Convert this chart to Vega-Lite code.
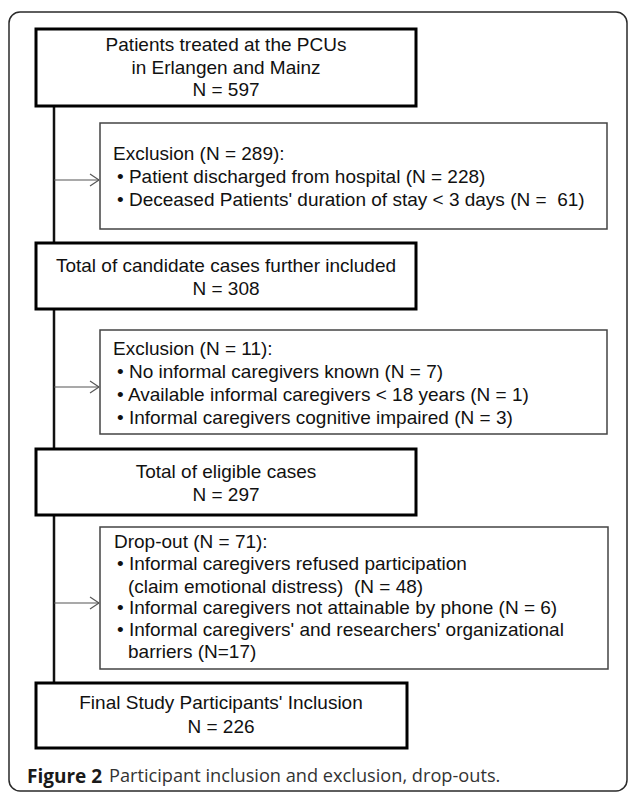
{
  "$schema": "https://vega.github.io/schema/vega-lite/v6.json",
  "width": 629,
  "height": 793,
  "autosize": {"type": "fit", "contains": "padding"},
  "padding": 0,
  "background": "white",
  "config": {"view": {"stroke": null}},
  "datasets": {
    "frame": [{"x": 9, "x2": 627, "y": 12, "y2": 791}],
    "trunk": [{"x": 54, "y": 106, "x2": 54, "y2": 683}],
    "arrows": [
      {"x": 54, "y": 180, "x2": 99, "y2": 180},
      {"x": 90, "y": 174, "x2": 99, "y2": 180},
      {"x": 90, "y": 186, "x2": 99, "y2": 180},
      {"x": 54, "y": 387, "x2": 99, "y2": 387},
      {"x": 90, "y": 381, "x2": 99, "y2": 387},
      {"x": 90, "y": 393, "x2": 99, "y2": 387},
      {"x": 54, "y": 603, "x2": 99, "y2": 603},
      {"x": 90, "y": 597, "x2": 99, "y2": 603},
      {"x": 90, "y": 609, "x2": 99, "y2": 603}
    ],
    "mainBoxes": [
      {"x": 36, "x2": 416, "y": 29, "y2": 106},
      {"x": 36, "x2": 416, "y": 243, "y2": 309},
      {"x": 36, "x2": 416, "y": 449, "y2": 515},
      {"x": 36, "x2": 407, "y": 683, "y2": 748}
    ],
    "noteBoxes": [
      {"x": 100, "x2": 607, "y": 123, "y2": 229},
      {"x": 100, "x2": 607, "y": 330, "y2": 434},
      {"x": 100, "x2": 608, "y": 527, "y2": 669}
    ],
    "mainText": [
      {"x": 226, "y": 45, "text": "Patients treated at the PCUs"},
      {"x": 226, "y": 68, "text": "in Erlangen and Mainz"},
      {"x": 226, "y": 90, "text": "N = 597"},
      {"x": 226, "y": 266, "text": "Total of candidate cases further included"},
      {"x": 226, "y": 289, "text": "N = 308"},
      {"x": 226, "y": 472, "text": "Total of eligible cases"},
      {"x": 226, "y": 495, "text": "N = 297"},
      {"x": 221, "y": 703, "text": "Final Study Participants' Inclusion"},
      {"x": 221, "y": 727, "text": "N = 226"}
    ],
    "noteText": [
      {"x": 113, "y": 154, "text": "Exclusion (N = 289):"},
      {"x": 117, "y": 177, "text": "• Patient discharged from hospital (N = 228)"},
      {"x": 117, "y": 200, "text": "• Deceased Patients' duration of stay < 3 days (N =\u00a0 61)"},
      {"x": 113, "y": 349, "text": "Exclusion (N = 11):"},
      {"x": 117, "y": 372, "text": "• No informal caregivers known (N = 7)"},
      {"x": 117, "y": 395, "text": "• Available informal caregivers < 18 years (N = 1)"},
      {"x": 117, "y": 418, "text": "• Informal caregivers cognitive impaired (N = 3)"},
      {"x": 114, "y": 542, "text": "Drop-out (N = 71):"},
      {"x": 117, "y": 564, "text": "• Informal caregivers refused participation"},
      {"x": 128, "y": 587, "text": "(claim emotional distress)\u00a0 (N = 48)"},
      {"x": 117, "y": 608, "text": "• Informal caregivers not attainable by phone (N = 6)"},
      {"x": 117, "y": 630, "text": "• Informal caregivers' and researchers' organizational"},
      {"x": 128, "y": 652, "text": "barriers (N=17)"}
    ],
    "captionBold": [{"x": 27, "y": 777, "text": "Figure 2"}],
    "captionText": [{"x": 109, "y": 777, "text": "Participant inclusion and exclusion, drop-outs."}]
  },
  "encoding": {
    "x": {"field": "x", "type": "quantitative", "scale": {"domain": [0, 629], "nice": false, "zero": false}, "axis": null},
    "y": {"field": "y", "type": "quantitative", "scale": {"domain": [0, 793], "nice": false, "zero": false, "reverse": true}, "axis": null}
  },
  "layer": [
    {
      "data": {"name": "frame"},
      "mark": {"type": "rect", "fill": "white", "stroke": "#2a2a2a", "strokeWidth": 1.5, "cornerRadius": 11},
      "encoding": {"x2": {"field": "x2"}, "y2": {"field": "y2"}}
    },
    {
      "data": {"name": "trunk"},
      "mark": {"type": "rule", "stroke": "#111111", "strokeWidth": 2.5},
      "encoding": {"x2": {"field": "x2"}, "y2": {"field": "y2"}}
    },
    {
      "data": {"name": "arrows"},
      "mark": {"type": "rule", "stroke": "#555555", "strokeWidth": 1.2},
      "encoding": {"x2": {"field": "x2"}, "y2": {"field": "y2"}}
    },
    {
      "data": {"name": "mainBoxes"},
      "mark": {"type": "rect", "fill": "white", "stroke": "#000000", "strokeWidth": 3},
      "encoding": {"x2": {"field": "x2"}, "y2": {"field": "y2"}}
    },
    {
      "data": {"name": "noteBoxes"},
      "mark": {"type": "rect", "fill": "white", "stroke": "#444444", "strokeWidth": 1.5},
      "encoding": {"x2": {"field": "x2"}, "y2": {"field": "y2"}}
    },
    {
      "data": {"name": "mainText"},
      "mark": {"type": "text", "font": "Liberation Sans", "fontSize": 19, "align": "center", "baseline": "middle", "color": "#111111"},
      "encoding": {"text": {"field": "text"}}
    },
    {
      "data": {"name": "noteText"},
      "mark": {"type": "text", "font": "Liberation Sans", "fontSize": 19, "align": "left", "baseline": "middle", "color": "#111111"},
      "encoding": {"text": {"field": "text"}}
    },
    {
      "data": {"name": "captionBold"},
      "mark": {"type": "text", "font": "Open Sans", "fontSize": 19, "fontWeight": "bold", "align": "left", "baseline": "middle", "color": "#1a1a1a"},
      "encoding": {"text": {"field": "text"}}
    },
    {
      "data": {"name": "captionText"},
      "mark": {"type": "text", "font": "Open Sans", "fontSize": 18.2, "align": "left", "baseline": "middle", "color": "#333333"},
      "encoding": {"text": {"field": "text"}}
    }
  ]
}
